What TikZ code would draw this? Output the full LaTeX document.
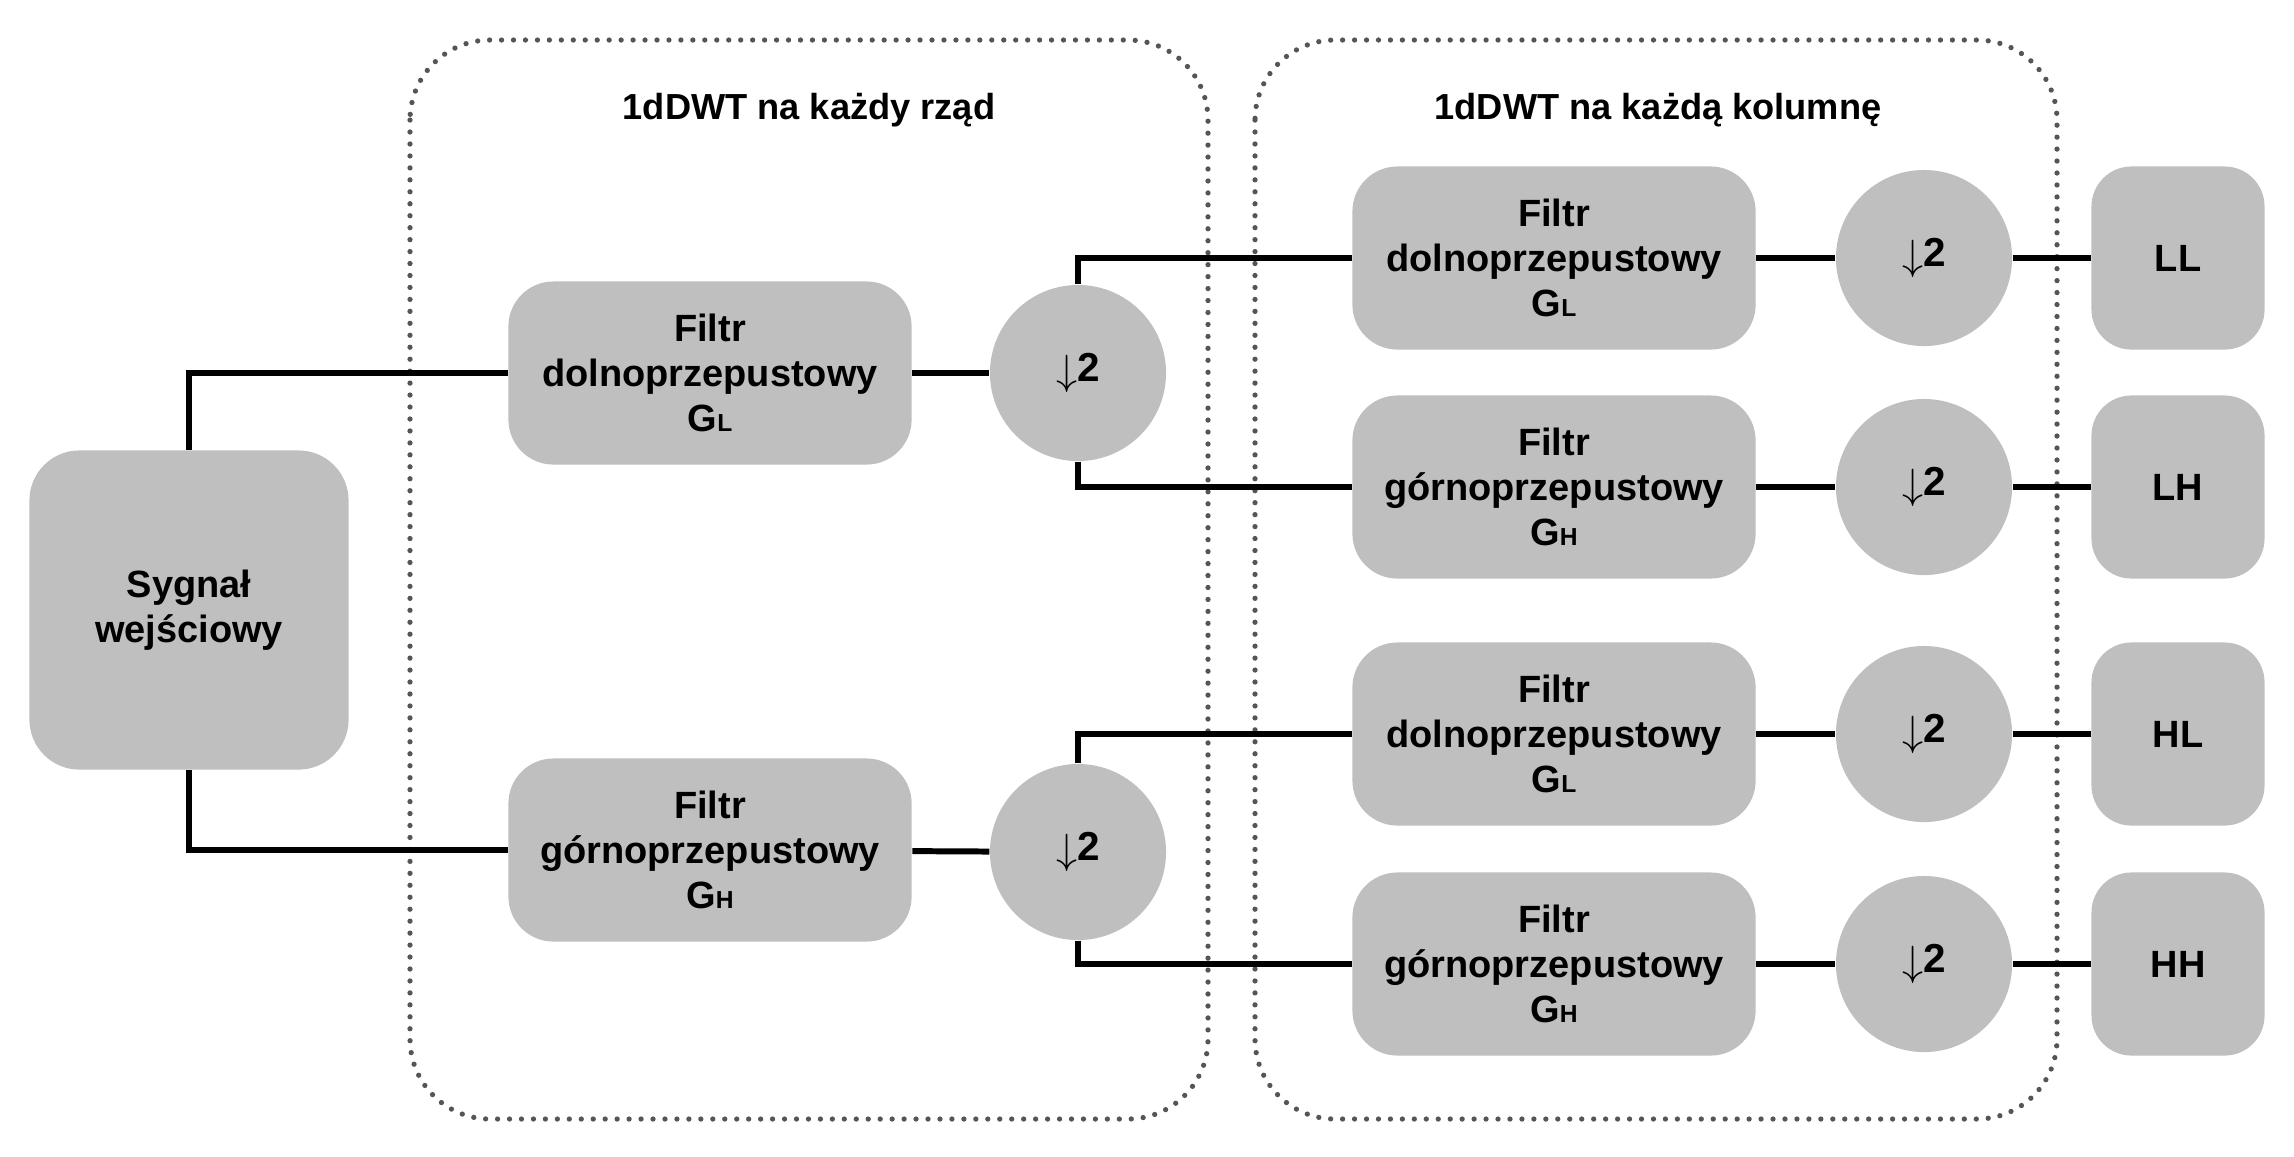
\documentclass[tikz,border=0pt]{standalone}
\usepackage{fontspec}
\setmainfont{Liberation Sans}
\usepackage{tikz}
\usetikzlibrary{shapes,backgrounds}
\definecolor{box-gray}{RGB}{191,191,191}
\definecolor{dot-gray}{RGB}{85,85,85}
\tikzstyle{block}=[fill=box-gray, rounded corners=.45cm, align=center, font=\fontsize{10.8}{12.8}\selectfont\bfseries]
\tikzstyle{filtr}=[block, minimum width=4.03cm, minimum height=1.83cm]
\tikzstyle{wynik}=[block, minimum width=1.73cm, minimum height=1.83cm, rounded corners=.4cm]
\tikzstyle{down}=[circle, fill=box-gray, minimum size=1.76cm, inner sep=0pt, font=\fontsize{11.5}{14}\selectfont\bfseries]
\tikzstyle{link}=[line width=1.7pt]
\tikzstyle{frame}=[draw=dot-gray, line width=1.5pt, line cap=round, dash pattern=on 0pt off 3.4pt, rounded corners=.8cm]
\newcommand{\sub}[1]{{\fontsize{7}{7}\selectfont #1}}
\newcommand{\dsmp}{\raisebox{-.6pt}{\fontsize{13}{13}\selectfont$\downarrow$}2}

\begin{document}
\begin{tikzpicture}[x=0.01cm, y=-0.01cm]
	\useasboundingbox (0,0) rectangle (2294,1156);
	\draw[frame] (410,40) rectangle (1208,1119);
	\draw[frame] (1255,40) rectangle (2057,1119);
	\node[font=\fontsize{10.3}{12.8}\selectfont\bfseries] (tytul1) at (809,110) {1dDWT na każdy rząd};
	\node[font=\fontsize{10.3}{12.8}\selectfont\bfseries] (tytul2) at (1658,110) {1dDWT na każdą kolumnę};
	% wejscie
	\node[block, minimum width=3.19cm, minimum height=3.19cm, rounded corners=.5cm] (sig) at (189,610) {Sygnał\\wejściowy};
	% wiersze
	\node[filtr] (rowL) at (710,373) {Filtr\\dolnoprzepustowy\\G\sub{L}};
	\node[filtr] (rowH) at (710,850) {Filtr\\górnoprzepustowy\\G\sub{H}};
	\node[down] (dsL) at (1078,373) {\dsmp};
	\node[down] (dsH) at (1078,852) {\dsmp};
	% kolumny
	\node[filtr] (colLL) at (1554,258) {Filtr\\dolnoprzepustowy\\G\sub{L}};
	\node[filtr] (colLH) at (1554,487) {Filtr\\górnoprzepustowy\\G\sub{H}};
	\node[filtr] (colHL) at (1554,734) {Filtr\\dolnoprzepustowy\\G\sub{L}};
	\node[filtr] (colHH) at (1554,964) {Filtr\\górnoprzepustowy\\G\sub{H}};
	\foreach \n/\y in {LL/258, LH/487, HL/734, HH/964} {
		\node[down] (ds\n) at (1924,\y) {\dsmp};
		\node[wynik] (out\n) at (2178,\y) {\n};
		\draw[link] (col\n) -- (ds\n);
		\draw[link] (ds\n) -- (out\n);
	}
	\draw[link] (sig.north) |- (rowL.west);
	\draw[link] (sig.south) |- (rowH.west);
	\draw[link] (rowL) -- (dsL);
	\draw[link] (rowH) -- (dsH);
	\draw[link] (dsL.north) |- (colLL.west);
	\draw[link] (dsL.south) |- (colLH.west);
	\draw[link] (dsH.north) |- (colHL.west);
	\draw[link] (dsH.south) |- (colHH.west);
\end{tikzpicture}
\end{document}
